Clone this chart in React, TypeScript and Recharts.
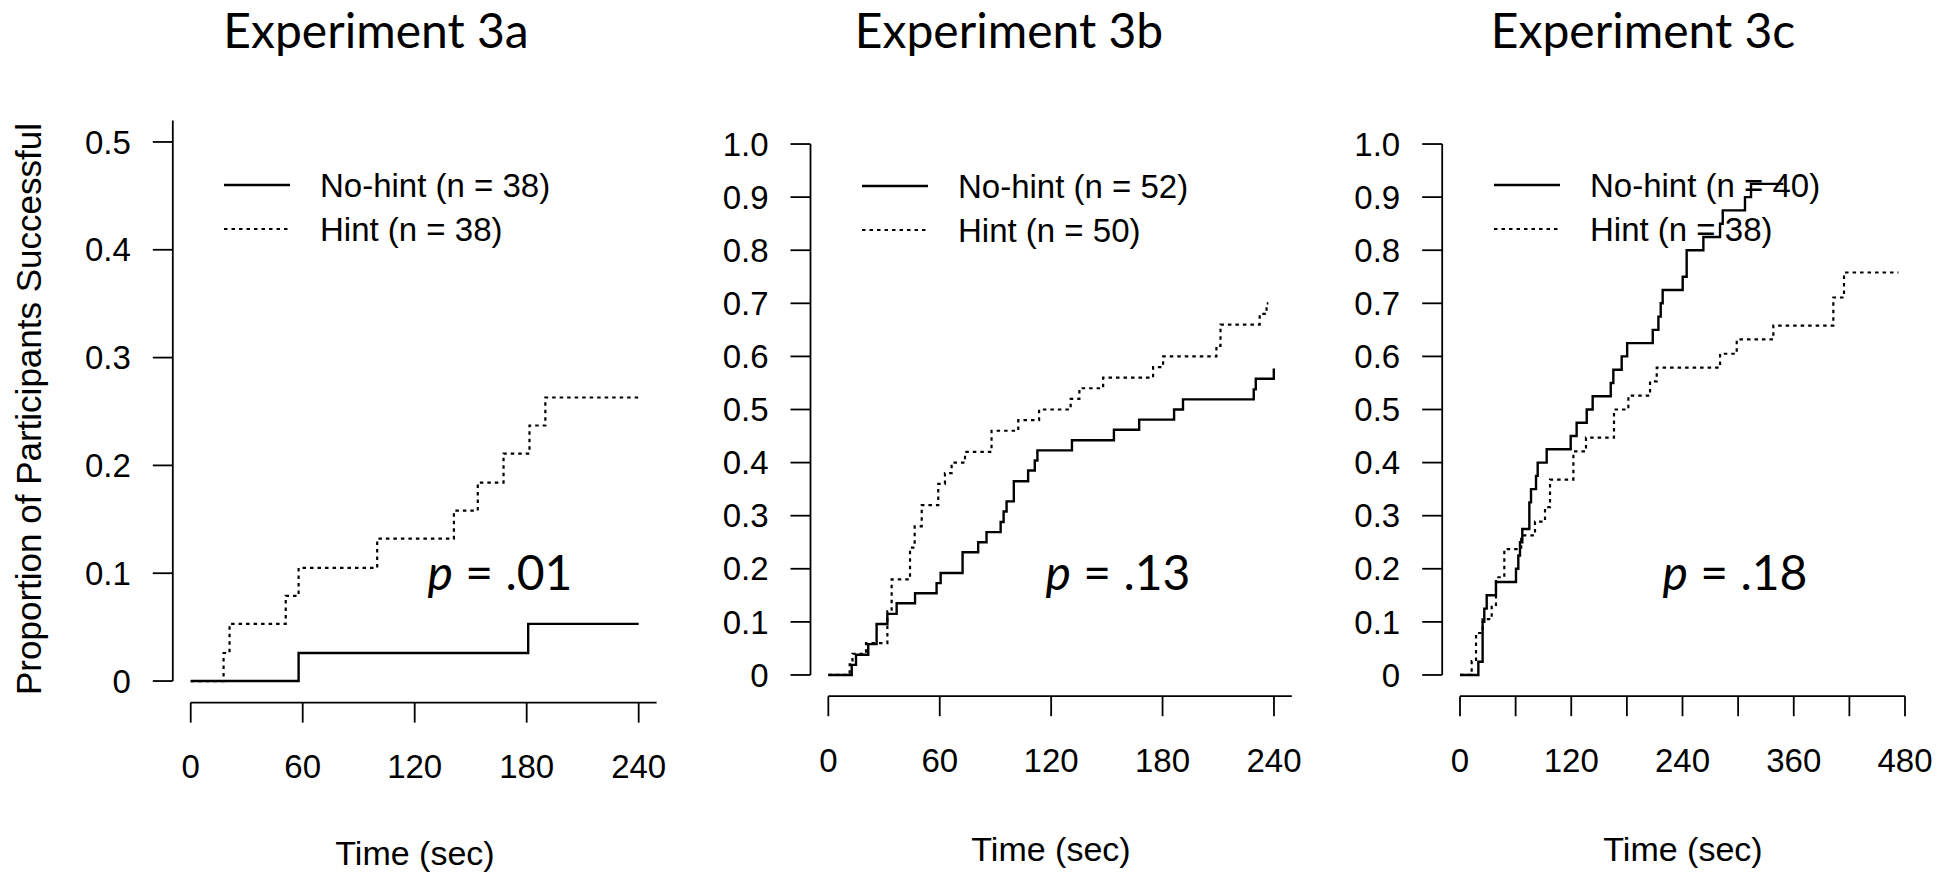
import React from 'react';
import { LineChart, Line, XAxis, YAxis, ReferenceLine, Legend } from 'recharts';

const AXIS_FONT = '"Liberation Sans", Arial, sans-serif';
const TITLE_FONT = 'Lato, "Open Sans", sans-serif';

// ---------- Data (time in sec, proportion successful) ----------
// Experiment 3a
const noHint3a = [
  { t: 0, p: 0 }, { t: 57.8, p: 0.026 }, { t: 180.8, p: 0.053 }, { t: 240, p: 0.053 },
];
const hint3a = [
  { t: 0, p: 0 }, { t: 17.6, p: 0.026 }, { t: 20.8, p: 0.053 }, { t: 50.9, p: 0.079 },
  { t: 57.8, p: 0.105 }, { t: 99.9, p: 0.132 }, { t: 141, p: 0.158 }, { t: 153.8, p: 0.184 },
  { t: 167.6, p: 0.211 }, { t: 181.5, p: 0.237 }, { t: 190, p: 0.263 }, { t: 240, p: 0.263 },
];

// Experiment 3b
const noHint3b = [
  { t: 0, p: 0 }, { t: 12.6, p: 0.019 }, { t: 14.9, p: 0.038 }, { t: 21.5, p: 0.058 },
  { t: 26, p: 0.096 }, { t: 31.8, p: 0.115 }, { t: 36.8, p: 0.135 }, { t: 46.7, p: 0.154 },
  { t: 58.3, p: 0.173 }, { t: 60.5, p: 0.192 }, { t: 72.3, p: 0.231 }, { t: 80.7, p: 0.25 },
  { t: 85.2, p: 0.269 }, { t: 92.8, p: 0.288 }, { t: 94.4, p: 0.308 }, { t: 96, p: 0.327 },
  { t: 99.9, p: 0.365 }, { t: 107.6, p: 0.385 }, { t: 111.2, p: 0.404 }, { t: 112.6, p: 0.423 },
  { t: 131.2, p: 0.442 }, { t: 153.8, p: 0.462 }, { t: 167.4, p: 0.481 }, { t: 186.2, p: 0.5 },
  { t: 191, p: 0.519 }, { t: 229.1, p: 0.538 }, { t: 230.2, p: 0.558 }, { t: 239.9, p: 0.577 },
];
const hint3b = [
  { t: 0, p: 0 }, { t: 11.5, p: 0.02 }, { t: 13, p: 0.04 }, { t: 20.3, p: 0.06 },
  { t: 31.8, p: 0.12 }, { t: 34.1, p: 0.18 }, { t: 44, p: 0.24 }, { t: 46.5, p: 0.28 },
  { t: 50.3, p: 0.32 }, { t: 59.2, p: 0.36 }, { t: 62.8, p: 0.38 }, { t: 66.4, p: 0.4 },
  { t: 73.6, p: 0.42 }, { t: 87.9, p: 0.46 }, { t: 102.3, p: 0.48 }, { t: 113.5, p: 0.5 },
  { t: 130.5, p: 0.52 }, { t: 135.2, p: 0.54 }, { t: 148, p: 0.56 }, { t: 174.9, p: 0.58 },
  { t: 180.3, p: 0.6 }, { t: 209, p: 0.62 }, { t: 211.2, p: 0.66 }, { t: 232.3, p: 0.68 },
  { t: 236, p: 0.7 }, { t: 237, p: 0.7 },
];

// Experiment 3c
const noHint3c = [
  { t: 0, p: 0 }, { t: 19.8, p: 0.025 }, { t: 24.4, p: 0.1 }, { t: 26.2, p: 0.125 },
  { t: 28.8, p: 0.15 }, { t: 38.8, p: 0.175 }, { t: 60.4, p: 0.2 }, { t: 62.9, p: 0.225 },
  { t: 64.7, p: 0.25 }, { t: 67.2, p: 0.275 }, { t: 74.8, p: 0.325 }, { t: 76.6, p: 0.35 },
  { t: 82, p: 0.375 }, { t: 83.8, p: 0.4 }, { t: 93.5, p: 0.425 }, { t: 119.4, p: 0.45 },
  { t: 125.8, p: 0.475 }, { t: 136.7, p: 0.5 }, { t: 143.1, p: 0.525 }, { t: 162.6, p: 0.55 },
  { t: 165.4, p: 0.575 }, { t: 174.4, p: 0.6 }, { t: 180.3, p: 0.625 }, { t: 207.9, p: 0.65 },
  { t: 214, p: 0.675 }, { t: 216.5, p: 0.7 }, { t: 218.6, p: 0.725 }, { t: 240.2, p: 0.75 },
  { t: 244.5, p: 0.8 }, { t: 262.5, p: 0.825 }, { t: 280.5, p: 0.85 }, { t: 283.4, p: 0.875 },
  { t: 307.4, p: 0.9 }, { t: 313.9, p: 0.925 }, { t: 348.8, p: 0.925 },
];
const hint3c = [
  { t: 0, p: 0 }, { t: 12.6, p: 0.026 }, { t: 17.3, p: 0.079 }, { t: 24.4, p: 0.105 },
  { t: 34.2, p: 0.132 }, { t: 38.8, p: 0.184 }, { t: 47.8, p: 0.237 }, { t: 66, p: 0.263 },
  { t: 80.9, p: 0.289 }, { t: 91.7, p: 0.316 }, { t: 97.1, p: 0.368 }, { t: 122.3, p: 0.421 },
  { t: 135.9, p: 0.447 }, { t: 166.1, p: 0.5 }, { t: 181.6, p: 0.526 }, { t: 205, p: 0.553 },
  { t: 212.2, p: 0.579 }, { t: 280.5, p: 0.605 }, { t: 298.5, p: 0.632 }, { t: 338, p: 0.658 },
  { t: 402.7, p: 0.711 }, { t: 414.2, p: 0.758 }, { t: 473, p: 0.758 },
];

// ---------- Tick values & labels ----------
const xTicks240 = [0, 60, 120, 180, 240];
const xTickLabels240 = ['0', '60', '120', '180', '240'];
const xTicks480 = [0, 60, 120, 180, 240, 300, 360, 420, 480];
const xTickLabels480 = ['0', '', '120', '', '240', '', '360', '', '480'];
const yTicksHalf = [0, 0.1, 0.2, 0.3, 0.4, 0.5];
const yTickLabelsHalf = ['0', '0.1', '0.2', '0.3', '0.4', '0.5'];
const yTicksFull = [0, 0.1, 0.2, 0.3, 0.4, 0.5, 0.6, 0.7, 0.8, 0.9, 1.0];
const yTickLabelsFull = ['0', '0.1', '0.2', '0.3', '0.4', '0.5', '0.6', '0.7', '0.8', '0.9', '1.0'];

const titles = ['Experiment 3a', 'Experiment 3b', 'Experiment 3c'];
const noHintLabels = ['No-hint (n = 38)', 'No-hint (n = 52)', 'No-hint (n = 40)'];
const hintLabels = ['Hint (n = 38)', 'Hint (n = 50)', 'Hint (n = 38)'];
const pValues = ['.01', '.13', '.18'];
const xAxisTitle = 'Time (sec)';
const yAxisTitle = 'Proportion of Participants Successful';

// ---------- Layout ----------
const W = 1955;
const H = 872;
const XH = 80;
const YW = 80;

type Panel = {
  noHint: { t: number; p: number }[];
  hint: { t: number; p: number }[];
  xDomain: [number, number];
  yDomain: [number, number];
  xTicks: number[];
  xLabels: string[];
  yTicks: number[];
  yLabels: string[];
  xAxisEnd: number;
  yAxisEnd: number;
  plot: { left: number; right: number; top: number; bottom: number };
  legend: { left: number; top: number };
  titleX: number;
  pPos: { x: number; y: number };
  xTitle: { x: number; y: number };
};

const panels: Panel[] = [
  {
    noHint: noHint3a, hint: hint3a,
    xDomain: [-9.6, 249.6], yDomain: [-0.02, 0.52],
    xTicks: xTicks240, xLabels: xTickLabels240, yTicks: yTicksHalf, yLabels: yTickLabelsHalf,
    xAxisEnd: 249.6, yAxisEnd: 0.52,
    plot: { left: 172.8, right: 656.6, top: 120.4, bottom: 702.6 },
    legend: { left: 222, top: 160 },
    titleX: 376,
    pPos: { x: 500, y: 572 },
    xTitle: { x: 415, y: 853 },
  },
  {
    noHint: noHint3b, hint: hint3b,
    xDomain: [-9.6, 249.6], yDomain: [-0.04, 1.04],
    xTicks: xTicks240, xLabels: xTickLabels240, yTicks: yTicksFull, yLabels: yTickLabelsFull,
    xAxisEnd: 249.6, yAxisEnd: 1.0,
    plot: { left: 810.5, right: 1291.8, top: 122.8, bottom: 696.2 },
    legend: { left: 860, top: 161 },
    titleX: 1009,
    pPos: { x: 1118, y: 572 },
    xTitle: { x: 1051, y: 849 },
  },
  {
    noHint: noHint3c, hint: hint3c,
    xDomain: [-19.2, 499.2], yDomain: [-0.04, 1.04],
    xTicks: xTicks480, xLabels: xTickLabels480, yTicks: yTicksFull, yLabels: yTickLabelsFull,
    xAxisEnd: 480, yAxisEnd: 1.0,
    plot: { left: 1442.2, right: 1922.8, top: 122.8, bottom: 696.2 },
    legend: { left: 1492, top: 160 },
    titleX: 1643,
    pPos: { x: 1735, y: 572 },
    xTitle: { x: 1683, y: 849 },
  },
];

const LegendBox = ({ i }: { i: number }) => (
  <svg width={360} height={100} style={{ display: 'block', overflow: 'visible' }}>
    <line x1={2} x2={68} y1={25} y2={25} stroke="#000" strokeWidth={2.3} />
    <line x1={2} x2={68} y1={69} y2={69} stroke="#000" strokeWidth={2.2} strokeDasharray="3.5 4" />
    <text x={98} y={25} dominantBaseline="central" fontFamily={AXIS_FONT} fontSize={33} fill="#000">
      {noHintLabels[i]}
    </text>
    <text x={98} y={69} dominantBaseline="central" fontFamily={AXIS_FONT} fontSize={33} fill="#000">
      {hintLabels[i]}
    </text>
  </svg>
);

const PanelChart = ({ cfg, i }: { cfg: Panel; i: number }) => {
  const tickStyle = { fill: '#000', fontSize: 33, fontFamily: AXIS_FONT };
  const tickLine = { stroke: '#000', strokeWidth: 1.8 };
  return (
    <div style={{ position: 'absolute', left: 0, top: 0, width: W, height: H }}>
      <LineChart
        width={W}
        height={H}
        margin={{
          top: cfg.plot.top,
          right: W - cfg.plot.right,
          bottom: H - cfg.plot.bottom - XH,
          left: cfg.plot.left - YW,
        }}
      >
        <XAxis
          type="number"
          dataKey="t"
          domain={cfg.xDomain}
          ticks={cfg.xTicks}
          interval={0}
          allowDataOverflow
          axisLine={false}
          tickLine={tickLine}
          tickSize={20}
          tickMargin={32}
          height={XH}
          tick={tickStyle}
          tickFormatter={(v: number) => cfg.xLabels[cfg.xTicks.indexOf(v)] ?? ''}
        />
        <YAxis
          type="number"
          domain={cfg.yDomain}
          ticks={cfg.yTicks}
          interval={0}
          allowDataOverflow
          axisLine={false}
          tickLine={tickLine}
          tickSize={20}
          tickMargin={22}
          width={YW}
          tick={tickStyle}
          tickFormatter={(v: number) => cfg.yLabels[cfg.yTicks.indexOf(v)] ?? ''}
        />
        <ReferenceLine
          segment={[{ x: 0, y: cfg.yDomain[0] }, { x: cfg.xAxisEnd, y: cfg.yDomain[0] }]}
          stroke="#000"
          strokeWidth={1.8}
          ifOverflow="visible"
        />
        <ReferenceLine
          segment={[{ x: cfg.xDomain[0], y: 0 }, { x: cfg.xDomain[0], y: cfg.yAxisEnd }]}
          stroke="#000"
          strokeWidth={1.8}
          ifOverflow="visible"
        />
        <Line
          data={cfg.hint}
          dataKey="p"
          type="stepAfter"
          stroke="#000"
          strokeWidth={2.2}
          strokeDasharray="3.5 4"
          dot={false}
          activeDot={false}
          isAnimationActive={false}
          name="Hint"
        />
        <Line
          data={cfg.noHint}
          dataKey="p"
          type="stepAfter"
          stroke="#000"
          strokeWidth={2.4}
          dot={false}
          activeDot={false}
          isAnimationActive={false}
          name="No-hint"
        />
        <Legend
          layout="vertical"
          align="center"
          verticalAlign="middle"
          wrapperStyle={{ left: cfg.legend.left, top: cfg.legend.top, width: 360, height: 100 }}
          content={() => <LegendBox i={i} />}
        />
      </LineChart>
    </div>
  );
};

export default function App() {
  return (
    <div
      style={{
        position: 'absolute',
        left: 0,
        top: 0,
        width: W,
        height: H,
        background: '#fff',
        overflow: 'hidden',
      }}
    >
      {panels.map((cfg, i) => (
        <PanelChart key={i} cfg={cfg} i={i} />
      ))}
      {panels.map((cfg, i) => (
        <div
          key={'t' + i}
          style={{
            position: 'absolute',
            left: cfg.titleX,
            top: 30,
            transform: 'translate(-50%, -50%)',
            fontFamily: TITLE_FONT,
            fontSize: 48,
            lineHeight: '48px',
            whiteSpace: 'nowrap',
            color: '#000',
          }}
        >
          {titles[i]}
        </div>
      ))}
      {panels.map((cfg, i) => (
        <div
          key={'p' + i}
          style={{
            position: 'absolute',
            left: cfg.pPos.x,
            top: cfg.pPos.y,
            transform: 'translate(-50%, -50%)',
            fontFamily: TITLE_FONT,
            fontSize: 48,
            lineHeight: '48px',
            whiteSpace: 'nowrap',
            color: '#000',
          }}
        >
          <i>p</i> = {pValues[i]}
        </div>
      ))}
      {panels.map((cfg, i) => (
        <div
          key={'x' + i}
          style={{
            position: 'absolute',
            left: cfg.xTitle.x,
            top: cfg.xTitle.y,
            transform: 'translate(-50%, -50%)',
            fontFamily: AXIS_FONT,
            fontSize: 34,
            lineHeight: '34px',
            whiteSpace: 'nowrap',
            color: '#000',
          }}
        >
          {xAxisTitle}
        </div>
      ))}
      <div
        style={{
          position: 'absolute',
          left: 28,
          top: 409,
          transform: 'translate(-50%, -50%) rotate(-90deg)',
          fontFamily: AXIS_FONT,
          fontSize: 35,
          lineHeight: '35px',
          whiteSpace: 'nowrap',
          color: '#000',
        }}
      >
        {yAxisTitle}
      </div>
    </div>
  );
}
